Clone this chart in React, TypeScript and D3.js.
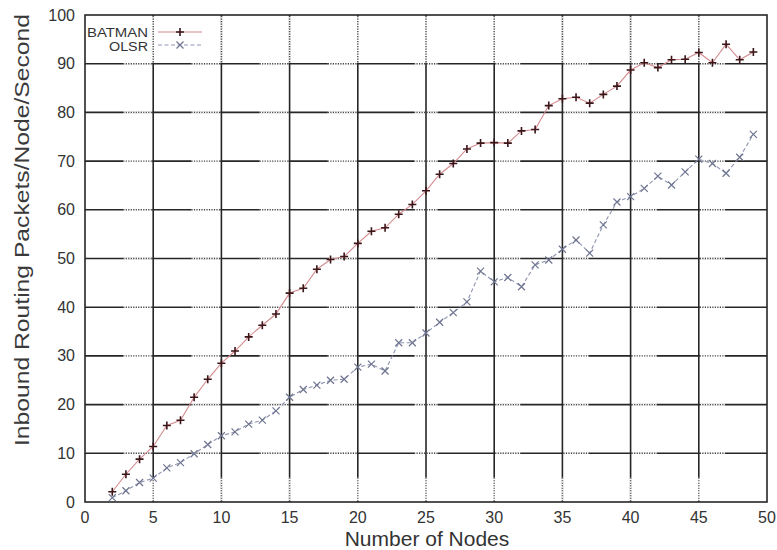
import React, { useEffect, useRef } from 'react';
import * as d3 from 'd3';

const nodes = [
  2, 3, 4, 5, 6, 7, 8, 9, 10, 11, 12, 13, 14, 15, 16, 17, 18, 19, 20, 21, 22, 23, 24, 25,
  26, 27, 28, 29, 30, 31, 32, 33, 34, 35, 36, 37, 38, 39, 40, 41, 42, 43, 44, 45, 46, 47, 48, 49,
];

const batman = [
  2.1, 5.7, 8.8, 11.4, 15.7, 16.8, 21.5, 25.2, 28.5, 31, 33.9, 36.3, 38.6, 42.9, 43.9, 47.8,
  49.8, 50.4, 53.1, 55.6, 56.3, 59.1, 61.1, 63.9, 67.3, 69.5, 72.5, 73.7, 73.8, 73.7, 76.2,
  76.5, 81.4, 82.8, 83.1, 81.9, 83.7, 85.4, 88.7, 90.2, 89.2, 90.8, 90.9, 92.3, 90.2, 94,
  90.8, 92.4,
];

const olsr = [
  0.9, 2.3, 4, 4.9, 7, 8.1, 9.9, 11.8, 13.6, 14.4, 16, 16.8, 18.7, 21.5, 23.1, 24, 25, 25.2,
  27.7, 28.3, 26.9, 32.7, 32.7, 34.7, 36.9, 38.9, 41.1, 47.4, 45.2, 46.1, 44.2, 48.7, 49.7,
  51.9, 53.8, 51.1, 56.9, 61.6, 62.7, 64.4, 66.9, 65.1, 67.8, 70.4, 69.5, 67.5, 70.8, 75.5,
];

const xTicks = [0, 5, 10, 15, 20, 25, 30, 35, 40, 45, 50];
const yTicks = [0, 10, 20, 30, 40, 50, 60, 70, 80, 90, 100];

const W = 777;
const H = 550;
const FONT = '"Liberation Sans", Arial, sans-serif';
const GRID = '#262626';

export default function App() {
  const svgRef = useRef<SVGSVGElement>(null);

  useEffect(() => {
    if (!svgRef.current) return;
    const svg = d3.select(svgRef.current);
    svg.selectAll('*').remove();

    const x = d3.scaleLinear().domain([0, 50]).range([85, 767]);
    const y = d3.scaleLinear().domain([0, 100]).range([502, 15]);

    svg.append('rect').attr('width', W).attr('height', H).attr('fill', '#fff');

    const grid = svg.append('g');

    // horizontal grid: solid, with a dotted stretch beside each vertical line
    const dotSpan = (v: number): [number, number] => {
      const px = x(v);
      if (v < 25) return [px - 30, px - 1];
      if (v === 25) return [px - 12, px + 12];
      return [px + 1, px + 26];
    };
    const inner = xTicks.filter((v) => v > 0 && v < 50);

    const dotted = (x1: number, y1: number, x2: number, y2: number) => {
      grid.append('line')
        .attr('x1', x1).attr('x2', x2).attr('y1', y1).attr('y2', y2)
        .attr('stroke', '#fff').attr('stroke-width', 2.4);
      grid.append('line')
        .attr('x1', x1).attr('x2', x2).attr('y1', y1).attr('y2', y2)
        .attr('stroke', '#444').attr('stroke-width', 1.4)
        .attr('stroke-dasharray', '1.2,1.3');
    };

    yTicks.filter((v) => v > 0 && v < 100).forEach((t) => {
      const yy = y(t);
      grid.append('line')
        .attr('x1', x(0)).attr('x2', x(50))
        .attr('y1', yy).attr('y2', yy)
        .attr('stroke', GRID).attr('stroke-width', 1.6);
      inner.forEach((v) => {
        const [a, b] = dotSpan(v);
        dotted(a, yy, b, yy);
      });
    });

    // vertical grid
    inner.forEach((v) => {
      const xx = x(v);
      grid.append('line')
        .attr('x1', xx).attr('x2', xx)
        .attr('y1', y(100)).attr('y2', y(0))
        .attr('stroke', GRID).attr('stroke-width', 1.6);
      dotted(xx, y(100) + 1, xx, y(90) - 1);
      dotted(xx, y(5), xx, y(0) - 1);
    });

    // frame
    svg.append('rect')
      .attr('x', x(0)).attr('y', y(100))
      .attr('width', x(50) - x(0)).attr('height', y(0) - y(100))
      .attr('fill', 'none').attr('stroke', GRID).attr('stroke-width', 1.6);

    // tick labels
    svg.append('g').selectAll('text').data(xTicks).join('text')
      .attr('x', (d) => x(d)).attr('y', 523)
      .attr('text-anchor', 'middle')
      .attr('font-family', FONT).attr('font-size', 16).attr('fill', '#333')
      .text((d) => d);

    svg.append('g').selectAll('text').data(yTicks).join('text')
      .attr('x', 75).attr('y', (d) => y(d) + 5.5)
      .attr('text-anchor', 'end')
      .attr('font-family', FONT).attr('font-size', 16).attr('fill', '#333')
      .text((d) => d);

    // axis titles
    svg.append('text')
      .attr('x', 427).attr('y', 546)
      .attr('text-anchor', 'middle')
      .attr('font-family', FONT).attr('font-size', 21).attr('fill', '#333')
      .text('Number of Nodes');

    svg.append('text')
      .attr('transform', 'translate(29,230) rotate(-90)')
      .attr('text-anchor', 'middle')
      .attr('font-family', FONT).attr('font-size', 20.5).attr('fill', '#3a3a3a')
      .attr('textLength', 432).attr('lengthAdjust', 'spacingAndGlyphs')
      .text('Inbound Routing Packets/Node/Second');

    const plus = (g: d3.Selection<SVGGElement, unknown, null, undefined>, cx: number, cy: number, c: string) => {
      g.append('path')
        .attr('d', `M${cx - 4},${cy}H${cx + 4}M${cx},${cy - 4}V${cy + 4}`)
        .attr('stroke', c).attr('stroke-width', 1.6).attr('fill', 'none');
    };
    const cross = (g: d3.Selection<SVGGElement, unknown, null, undefined>, cx: number, cy: number, c: string) => {
      g.append('path')
        .attr('d', `M${cx - 3.5},${cy - 3.5}L${cx + 3.5},${cy + 3.5}M${cx - 3.5},${cy + 3.5}L${cx + 3.5},${cy - 3.5}`)
        .attr('stroke', c).attr('stroke-width', 1.2).attr('fill', 'none');
    };

    const line = d3.line<number>().x((_, i) => x(nodes[i])).y((d) => y(d));

    // OLSR
    const go = svg.append('g');
    go.append('path')
      .datum(olsr)
      .attr('d', line)
      .attr('fill', 'none').attr('stroke', '#8e94b0').attr('stroke-width', 1.1)
      .attr('stroke-dasharray', '4,2.5');
    olsr.forEach((d, i) => cross(go, x(nodes[i]), y(d), '#6f7590'));

    // BATMAN
    const gb = svg.append('g');
    gb.append('path')
      .datum(batman)
      .attr('d', line)
      .attr('fill', 'none').attr('stroke', '#d48a8e').attr('stroke-width', 1.1);
    batman.forEach((d, i) => plus(gb, x(nodes[i]), y(d), '#3c1518'));

    // legend
    const lg = svg.append('g');
    lg.append('text')
      .attr('x', 148).attr('y', 36.5).attr('text-anchor', 'end')
      .attr('font-family', FONT).attr('font-size', 12).attr('fill', '#333')
      .attr('textLength', 61).attr('lengthAdjust', 'spacingAndGlyphs')
      .text('BATMAN');
    lg.append('text')
      .attr('x', 148).attr('y', 50.5).attr('text-anchor', 'end')
      .attr('font-family', FONT).attr('font-size', 12).attr('fill', '#333')
      .attr('textLength', 39).attr('lengthAdjust', 'spacingAndGlyphs')
      .text('OLSR');
    lg.append('line')
      .attr('x1', 158).attr('x2', 202).attr('y1', 32).attr('y2', 32)
      .attr('stroke', '#d48a8e').attr('stroke-width', 1.1);
    plus(lg, 180, 32, '#3c1518');
    lg.append('line')
      .attr('x1', 158).attr('x2', 202).attr('y1', 45).attr('y2', 45)
      .attr('stroke', '#8e94b0').attr('stroke-width', 1.1).attr('stroke-dasharray', '4,2.5');
    cross(lg, 180, 45, '#6f7590');
  }, []);

  return (
    <div style={{ position: 'fixed', left: 0, top: 0 }}>
      <svg ref={svgRef} width={W} height={H} style={{ display: 'block' }} />
    </div>
  );
}
